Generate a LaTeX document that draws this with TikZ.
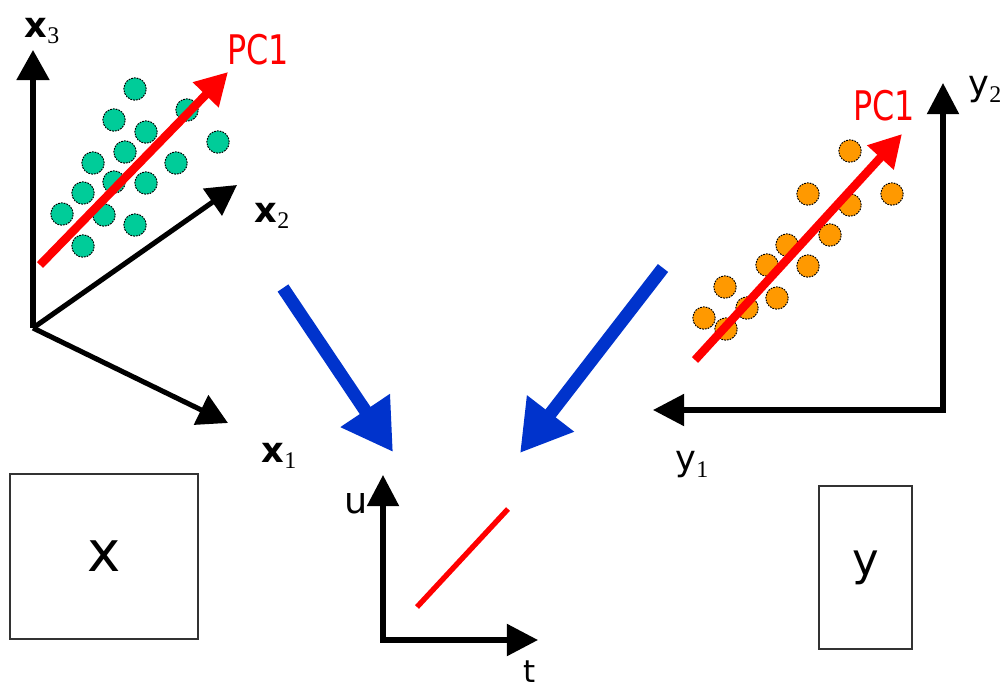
\documentclass[tikz,border=0pt]{standalone}
\usepackage{fontspec}
\setmainfont{DejaVu Sans}
\newfontfamily\subfont{Liberation Serif}
\usepackage{tikz}
\usetikzlibrary{arrows.meta,positioning}
\definecolor{DotTeal}{HTML}{00CC99}
\definecolor{DotOrange}{HTML}{FF9900}
\definecolor{ArrBlue}{HTML}{0033CC}
\definecolor{PCRed}{HTML}{FF0000}
\definecolor{BoxGray}{HTML}{333333}
\newcommand{\axlab}[2]{#1\raisebox{-0.35ex}{\fontsize{17}{17}\subfont #2}}
\tikzset{
  % Axis arrows
  ax/.style={line width=3.6pt,-{Triangle[length=0.75cm,width=0.8cm]}},
  axpair/.style={line width=3.6pt,
                 {Triangle[length=0.78cm,width=0.78cm]}-{Triangle[length=0.78cm,width=0.78cm]}},
  % PC1 and projection arrows
  pc/.style={line width=6pt,draw=PCRed,-{Triangle[length=0.8cm,width=0.85cm]}},
  fit/.style={line width=3.8pt,draw=PCRed},
  big/.style={line width=9.2pt,draw=ArrBlue,-{Triangle[length=1.25cm,width=1.4cm]}},
  % Data points
  DT/.style={circle,minimum size=0.56cm,inner sep=0pt,draw=black,
             dash pattern=on 1.2pt off 0.8pt,line width=0.7pt},
  dG/.style={DT,fill=DotTeal},
  dO/.style={DT,fill=DotOrange},
  % Labels and blocks
  lab/.style={inner sep=0pt,font=\fontsize{25}{26}\selectfont},
  pclab/.style={inner sep=0pt,text=PCRed,xscale=0.78,transform shape,
                font=\fontsize{29}{30}\selectfont},
  blk/.style={rectangle,draw=BoxGray,line width=1pt,inner sep=0pt}
}
\begin{document}
\begin{tikzpicture}[x=0.025cm,y=-0.025cm]
  \useasboundingbox (0,0) rectangle (1004,690);

  % X space
  \coordinate (xo)   at (33,328);
  \coordinate (x3tip) at (33,50);
  \coordinate (x2tip) at (237,185);
  \coordinate (x1tip) at (228,423);
  \draw[ax] (xo) -- (x3tip);
  \draw[ax] (xo) -- (x2tip);
  \draw[ax] (xo) -- (x1tip);
  \node[lab] (x3) at (42,31)  {\axlab{\textbf{x}}{3}};
  \node[lab] (x2) at (272,216) {\axlab{\textbf{x}}{2}};
  \node[lab] (x1) at (279,456) {\axlab{\textbf{x}}{1}};

  \foreach \px/\py [count=\i] in {135/89,187/110,114/120,146/132,218/142,125/152,
      93/163,176/163,114/182,146/183,83/193,62/214,104/215,135/225,83/246}
    \node[dG] (g\i) at (\px,\py) {};
  \coordinate (pcxs) at (40,265);
  \coordinate (pcxe) at (228,72);
  \draw[pc] (pcxs) -- (pcxe);
  \node[pclab] (pcx) at (258,50) {PC1};

  % Y space
  \coordinate (yo)    at (943,410);
  \coordinate (y2tip) at (943,83);
  \coordinate (y1tip) at (653,410);
  \draw[axpair] (y1tip) -- (yo) -- (y2tip);
  \node[lab] (y2) at (985,90)  {\axlab{y}{2}};
  \node[lab] (y1) at (692,465) {\axlab{y}{1}};

  \foreach \px/\py [count=\i] in {850/151,808/194,892/194,850/205,830/235,787/245,
      767/265,808/266,725/287,777/298,747/308,704/318,726/329}
    \node[dO] (o\i) at (\px,\py) {};
  \coordinate (pcys) at (695,360);
  \coordinate (pcye) at (902,134);
  \draw[pc] (pcys) -- (pcye);
  \node[pclab] (pcy) at (884,106) {PC1};

  % Projection onto t-u
  \coordinate (bls) at (283,288);
  \coordinate (ble) at (393,452);
  \coordinate (brs) at (663,268);
  \coordinate (bre) at (520,453);
  \draw[big] (bls) -- (ble);
  \draw[big] (brs) -- (bre);

  \coordinate (uo)   at (383,640);
  \coordinate (utip) at (383,475);
  \coordinate (ttip) at (538,640);
  \draw[axpair] (ttip) -- (uo) -- (utip);
  \node[lab,font=\fontsize{26}{26}\selectfont] (u) at (356,504) {u};
  \node[lab,font=\fontsize{22}{22}\selectfont,anchor=base] (t) at (530,682) {t};
  \coordinate (fs) at (417,607);
  \coordinate (fe) at (508,509);
  \draw[fit] (fs) -- (fe);

  % Data blocks
  \node[blk,minimum width=4.7cm,minimum height=4.125cm] (Xb) at (104,556.5) {};
  \node[font=\fontsize{40}{40}\selectfont] (Xl) at (Xb) {x};
  \node[blk,minimum width=2.325cm,minimum height=4.075cm] (Yb) at (865.5,567.5) {};
  \node[font=\fontsize{32}{32}\selectfont] (Yl) at (Yb) {y};
\end{tikzpicture}
\end{document}
